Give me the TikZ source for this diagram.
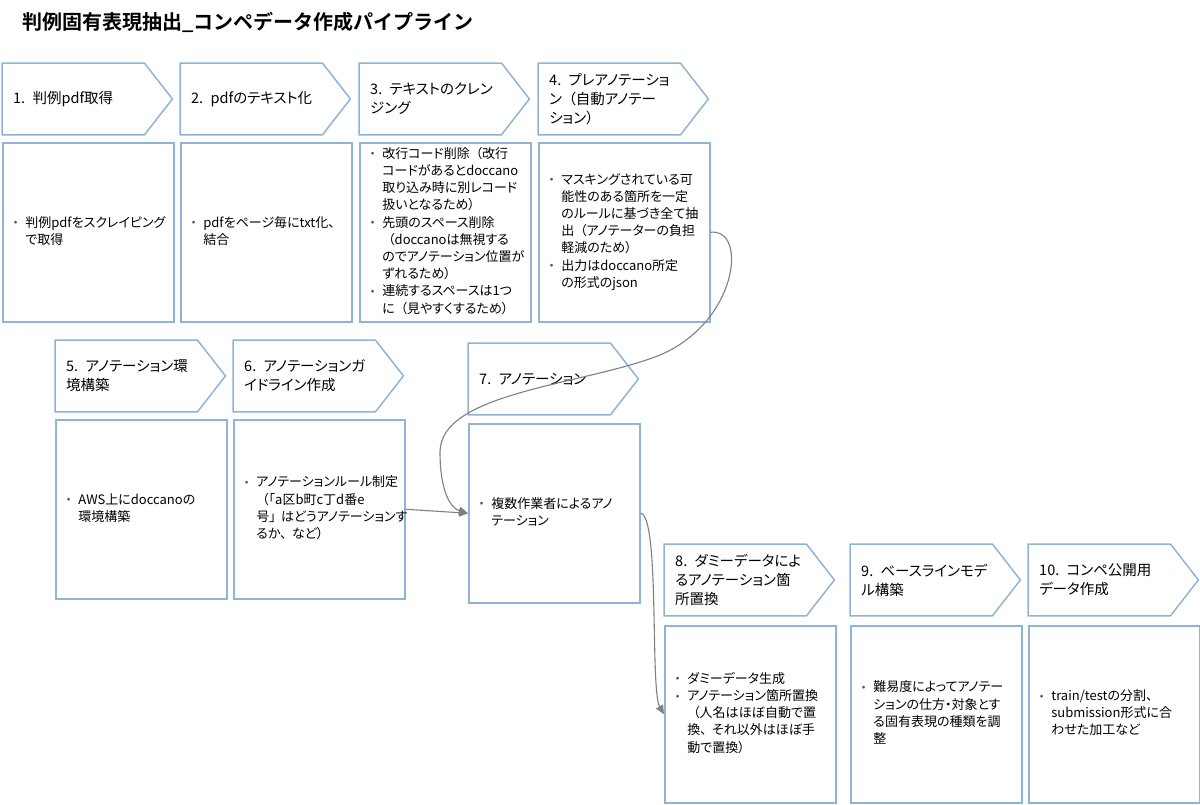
\documentclass[tikz,border=0pt]{standalone}
\usepackage{fontspec}
\setmainfont{Noto Sans CJK JP}[BoldFont={Noto Sans CJK JP Bold}, RawFeature={+palt}]
\newfontfamily\titlefont{Noto Sans CJK JP Bold}
\usepackage{tikz}
\usetikzlibrary{arrows.meta}

\definecolor{boxblue}{RGB}{143,180,216}
\definecolor{linegray}{RGB}{128,128,128}
\definecolor{dotblue}{RGB}{68,84,106}

\newcommand\bul{{\color{dotblue}\raisebox{2.5pt}{\scalebox{0.6}{$\bullet$}}}}
\newcommand\blist[1]{\begin{tabular}{@{}l@{\hspace{8pt}}l@{}}#1\end{tabular}}
\newcommand\lp{\hspace{0.45em}（}
\newcommand\cma{、\hspace{0.4em}}

\tikzset{
  chev/.style={anchor=north west, inner xsep=11pt, inner ysep=0pt, minimum height=71.5pt,
    text width=148pt, align=left, font=\fontsize{14.5}{19}\selectfont},
  chevline/.style={draw=boxblue, line width=1.5pt},
  body/.style={draw=boxblue, line width=1.5pt, anchor=north west, inner xsep=11pt, inner ysep=0pt,
    text width=149pt, minimum height=179pt, align=left, font=\fontsize{13}{17.2}\selectfont},
  flow/.style={draw=linegray, line width=1.1pt, -{Triangle[length=9pt,width=8pt]}},
}

\begin{document}
\begin{tikzpicture}[x=1pt,y=-1pt]
  \useasboundingbox[fill=white] (0,0) rectangle (1200,804);

  \node[anchor=west, inner sep=0pt, font=\fontsize{20}{24}\titlefont] (title) at (22,22)
    {判例固有表現抽出\_コンペデータ作成パイプライン};

  % row 1
  \node[chev] (c1) at (2,63) {1. 判例pdf取得};
  \node[chev] (c2) at (180,63) {2. pdfのテキスト化};
  \node[chev] (c3) at (359,63) {3. テキストのクレン\\ジング};
  \node[chev] (c4) at (538,63) {4. プレアノテーショ\\ン\lp 自動アノテー\\ション）};
  \node[body] (b1) at (2,142) {\blist{\bul & 判例pdfをスクレイピング\\ & で取得}};
  \node[body] (b2) at (180,142) {\blist{\bul & pdfをページ毎にtxt化、\\ & 結合}};
  \node[body] (b3) at (359,142) {\blist{\bul & 改行コード削除\lp 改行\\ & コードがあるとdoccano\\ & 取り込み時に別レコード\\ & 扱いとなるため）\\
    \bul & 先頭のスペース削除\\ & \lp doccanoは無視する\\ & のでアノテーション位置が\\ & ずれるため）\\
    \bul & 連続するスペースは1つ\\ & に\lp 見やすくするため）}};
  \node[body] (b4) at (538,142) {\blist{\bul & マスキングされている可\\ & 能性のある箇所を一定\\ & のルールに基づき全て抽\\ & 出\lp アノテーターの負担\\ & 軽減のため）\\
    \bul & 出力はdoccano所定\\ & の形式のjson}};

  % row 2
  \node[chev] (c5) at (55,340) {5. アノテーション環\\境構築};
  \node[chev] (c6) at (233,340) {6. アノテーションガ\\イドライン作成};
  \node[chev] (c7) at (468,343) {7. アノテーション};
  \node[body] (b5) at (55,419) {\blist{\bul & AWS上にdoccanoの\\ & 環境構築}};
  \node[body] (b6) at (233,419) {\blist{\bul & アノテーションルール制定\\ & \lp「a区b町c丁d番e\\ & 号」\hspace{0.4em}はどうアノテーションす\\ & るか\cma など）}};
  \node[body] (b7) at (468,423) {\blist{\bul & 複数作業者によるアノ\\ & テーション}};

  % row 3
  \node[chev] (c8) at (664,544) {8. ダミーデータによ\\るアノテーション箇\\所置換};
  \node[chev] (c9) at (850,544) {9. ベースラインモデ\\ル構築};
  \node[chev] (c10) at (1028,544) {10. コンペ公開用\\データ作成};
  \node[body, minimum height=177pt] (b8) at (664,625) {\blist{\bul & ダミーデータ生成\\
    \bul & アノテーション箇所置換\\ & \lp 人名はほぼ自動で置\\ & 換\cma それ以外はほぼ手\\ & 動で置換）}};
  \node[body, minimum height=177pt] (b9) at (850,625) {\blist{\bul & 難易度によってアノテー\\ & ションの仕方・対象とす\\ & る固有表現の種類を調\\ & 整}};
  \node[body, minimum height=177pt] (b10) at (1028,625) {\blist{\bul & train/testの分割、\\ & submission形式に合\\ & わせた加工など}};

  % chevron outlines
  \foreach \i in {1,...,10}
    \draw[chevline] (c\i.north west) -- ([xshift=-28pt]c\i.north east) -- (c\i.east)
      -- ([xshift=-28pt]c\i.south east) -- (c\i.south west) -- cycle;

  % connectors
  \draw[flow] (b4.east) .. controls (748,228) and (738,322) .. (660,355)
    .. controls (585,385) and (440,392) .. (440,452)
    .. controls (440,490) and (450,508) .. (b7.west);
  \draw[flow] (b6.east) -- (b7.west);
  \draw[flow] (b7.east) .. controls (660,515) and (650,690) .. (b8.west);
\end{tikzpicture}
\end{document}
